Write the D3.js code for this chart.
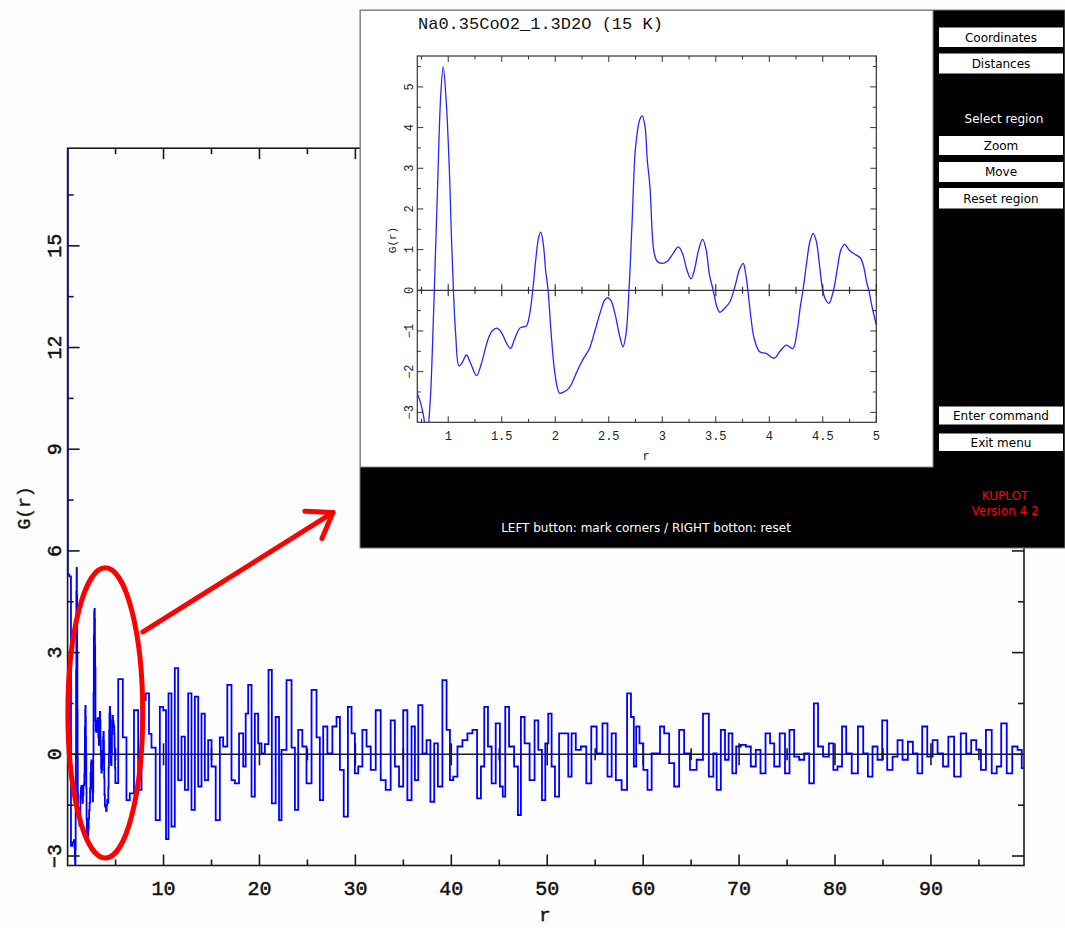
<!DOCTYPE html>
<html><head><meta charset="utf-8">
<script src="https://cdn.jsdelivr.net/npm/d3@7"></script>
<style>
html,body{margin:0;padding:0;background:#fdfdfd;}
svg{display:block;}
</style></head>
<body>
<svg id="chart" width="1065" height="928"></svg>
<script>
// ---------------- DATA ----------------
// main chart: tick labels
const mainXTickLabels = [10, 20, 30, 40, 50, 60, 70, 80, 90];
const mainYTickLabels = [-3, 0, 3, 6, 9, 12, 15];
// main curve: head (r < 0.7)
const mainHeadR = [0, 0.05, 0.3, 0.4, 0.6];
const mainHeadG = [20, 5.3, 5.25, -2.7, -2.6];
// zoomed region (r 0.71 .. 5)
const insetR = [0.71,0.74,0.77,0.80,0.83,0.85,0.87,0.90,0.93,0.953,0.98,1.01,1.03,1.05,1.07,1.10,1.13,1.17,1.21,1.265,1.31,1.37,1.41,1.457,1.50,1.545,1.582,1.62,1.669,1.70,1.73,1.76,1.79,1.82,1.845,1.865,1.89,1.91,1.933,1.96,1.99,2.02,2.04,2.08,2.13,2.17,2.22,2.27,2.32,2.37,2.42,2.46,2.49,2.52,2.56,2.60,2.633,2.66,2.689,2.72,2.75,2.79,2.813,2.84,2.86,2.885,2.92,2.95,2.995,3.05,3.10,3.15,3.19,3.23,3.268,3.30,3.34,3.377,3.41,3.44,3.476,3.51,3.538,3.58,3.632,3.68,3.72,3.756,3.78,3.80,3.83,3.86,3.91,3.97,4.045,4.10,4.16,4.22,4.26,4.29,4.315,4.35,4.38,4.41,4.44,4.47,4.50,4.53,4.558,4.60,4.64,4.67,4.704,4.75,4.81,4.85,4.88,4.91,4.93,4.96,5.0];
const insetG = [-2.53,-2.75,-3.1,-3.6,-2.8,-1.6,0.0,2.5,4.8,5.5,4.7,3.0,1.3,-0.1,-1.1,-1.86,-1.78,-1.59,-1.8,-2.1,-1.8,-1.22,-1.0,-0.93,-1.05,-1.3,-1.43,-1.2,-0.93,-0.9,-0.88,-0.6,0.0,0.8,1.3,1.43,1.1,0.5,0.0,-1.0,-1.9,-2.4,-2.53,-2.5,-2.4,-2.2,-1.9,-1.65,-1.43,-1.0,-0.55,-0.25,-0.18,-0.25,-0.6,-1.1,-1.39,-1.1,0.0,1.8,3.5,4.2,4.29,4.0,3.2,2.55,0.99,0.72,0.66,0.72,0.9,1.07,0.9,0.5,0.28,0.5,1.0,1.25,1.0,0.4,0.0,-0.4,-0.54,-0.45,-0.28,0.1,0.5,0.66,0.4,0.0,-0.7,-1.2,-1.51,-1.55,-1.67,-1.5,-1.35,-1.43,-1.0,-0.4,0.0,0.7,1.2,1.4,1.2,0.6,0.0,-0.25,-0.32,0.0,0.6,1.0,1.13,0.98,0.87,0.8,0.6,0.2,0.0,-0.4,-0.85];
// main curve tail (r > 5)
const mainR = [5.55,5.96,6.31,6.66,7.18,7.53,7.88,8.40,8.57,8.92,9.44,9.79,10.14,10.38,10.66,11.00,11.35,11.70,12.05,12.40,12.74,13.09,13.44,13.79,14.13,14.48,14.83,15.18,15.70,16.04,16.39,16.91,17.26,17.61,18.13,18.48,18.65,19.00,19.35,19.69,20.04,20.39,20.74,21.15,21.43,21.95,22.13,22.47,23.17,23.52,23.87,24.21,24.73,25.08,25.78,26.12,26.47,26.82,27.34,27.86,28.21,28.56,29.01,29.43,29.77,30.12,30.47,30.99,31.34,31.86,32.38,32.90,33.42,33.94,34.29,34.81,35.16,35.68,36.03,36.38,36.73,37.25,37.59,38.05,38.39,38.81,39.33,39.68,40.03,40.38,40.90,41.42,41.94,42.46,42.91,43.26,43.61,44.03,44.37,44.89,45.24,45.49,45.76,46.28,46.81,47.08,47.43,47.85,48.47,48.89,49.24,49.66,49.93,50.28,50.63,50.98,51.50,52.02,52.37,52.71,53.24,53.76,54.38,54.80,55.50,56.02,56.54,56.89,57.41,58.10,58.55,58.90,59.15,59.39,59.84,60.19,60.71,61.06,61.58,61.93,62.45,62.97,63.49,64.01,64.53,65.23,65.92,66.55,67.14,67.49,67.83,68.36,68.70,69.12,69.47,69.92,70.44,70.96,71.48,72.00,72.46,73.05,73.40,73.92,74.54,75.03,75.48,76.00,76.52,77.05,77.57,78.02,78.44,79.06,79.65,80.00,80.52,80.94,81.39,82.09,82.68,83.20,83.65,84.17,84.69,85.14,85.74,86.26,86.78,87.30,87.89,88.34,88.86,89.32,89.91,90.43,90.95,91.57,92.06,92.76,93.45,93.90,94.49,94.95,95.47,95.99,96.68,97.03,97.62,98.18,98.77,99.29,99.64];
const mainG = [2.22,0.5,-1.35,-1.15,1.3,-1.05,1.6,1.8,0.6,0.2,-1.94,1.4,1.3,-2.5,1.8,-2.13,2.54,-0.76,0.52,-1.05,1.8,-1.64,1.7,-0.95,1.2,-0.76,0.42,-0.36,-1.94,0.5,0.23,2.05,-0.76,-0.86,0.62,-0.36,1.2,2.05,-1.25,1.2,0.32,0.03,0.3,2.49,-1.45,1.1,-1.94,0.13,2.19,0.2,-1.64,0.72,0.23,-0.86,1.9,0.5,-1.35,0.82,0.03,0.82,1.1,-0.46,-1.84,1.4,0.62,-0.56,-0.36,0.72,0.23,-0.46,1.3,-0.76,-1.05,1.0,-0.36,-0.95,1.3,-1.35,0.82,-0.76,1.45,0.03,0.42,-1.4,0.32,-0.95,2.19,0.72,-0.76,-0.66,0.23,0.42,0.62,0.72,-1.3,-0.36,1.4,0.23,-0.86,0.91,-0.95,-1.25,1.4,0.23,-0.36,-1.79,1.1,0.32,-0.76,1.0,0.13,-1.35,0.32,1.2,-0.36,-1.25,0.62,0.62,-0.66,0.62,0.13,0.23,-0.86,0.82,0.03,0.91,-0.66,0.62,-0.76,-1.05,1.8,1.1,-0.36,0.82,0.32,-0.46,-1.05,0.03,0.03,0.82,0.62,-0.26,-0.95,0.72,0.03,-0.46,-0.16,1.2,-0.66,0.03,-1.05,0.72,-0.16,0.62,-0.56,0.23,0.28,0.23,-0.36,0.13,-0.56,0.62,0.32,-0.36,0.62,-0.56,0.72,-0.07,-0.16,0.03,-0.86,1.5,0.23,-0.07,0.32,-0.46,-0.36,0.82,0.03,-0.56,0.82,0.03,-0.66,0.23,-0.16,1.0,-0.46,-0.07,0.42,-0.16,0.37,0.03,-0.56,0.82,-0.07,0.42,0.03,-0.36,0.52,-0.66,0.62,0.03,0.42,0.13,-0.46,0.72,-0.56,-0.36,0.91,-0.56,0.23,0.13,-0.41];
// inset tick labels
const insetXTickLabels = ["1","1.5","2","2.5","3","3.5","4","4.5","5"];
const insetYTickLabels = ["\u22123","\u22122","\u22121","0","1","2","3","4","5"];
const insetTitle = "Na0.35CoO2_1.3D2O (15 K)";
const menuButtons = ["Coordinates","Distances","Zoom","Move","Reset region","Enter command","Exit menu"];
const menuLabels = ["Select region"];
const statusText = "LEFT button: mark corners / RIGHT botton: reset";
const versionText = ["KUPLOT","Version 4 2"];

// ---------------- DRAW ----------------
const svg = d3.select("#chart");
const MONO = "'Liberation Mono', 'DejaVu Sans Mono', monospace";
const SANS = "'DejaVu Sans', 'Liberation Sans', sans-serif";

// ===== main plot =====
const x = d3.scaleLinear().domain([0, 99.7]).range([67.6, 1024]);
const y = d3.scaleLinear().domain([-3.28, 17.88]).range([865.5, 148.2]);

svg.append("defs").append("clipPath").attr("id","mclip")
  .append("rect").attr("x",67.6).attr("y",148.2).attr("width",1024-67.6).attr("height",865.5-148.2);

const main = svg.append("g");
const axCol = "#1a1a1a";

// zero line
main.append("line").attr("x1",x(0)).attr("x2",x(99.7)).attr("y1",y(0)).attr("y2",y(0))
  .attr("stroke",axCol).attr("stroke-width",1.6);

// data
const mainData = [];
mainHeadR.forEach((r,i)=>mainData.push([r, mainHeadG[i]]));
insetR.forEach((r,i)=>mainData.push([r, insetG[i]]));
mainR.forEach((r,i)=>mainData.push([r, mainG[i]]));
main.append("path").datum(mainData)
  .attr("clip-path","url(#mclip)")
  .attr("d", d3.line().x(d=>x(d[0])).y(d=>y(d[1])).curve(d3.curveStep))
  .attr("fill","none").attr("stroke","#0000ff").attr("stroke-width",1.8);

// frame
main.append("rect").attr("x",x(0)).attr("y",y(17.88)).attr("width",x(99.7)-x(0)).attr("height",y(-3.28)-y(17.88))
  .attr("fill","none").attr("stroke",axCol).attr("stroke-width",1.6);

// x ticks
d3.range(5, 100, 5).forEach(v=>{
  const major = v % 10 === 0;
  const L = major ? 11 : 6;
  const xx = x(v);
  main.append("line").attr("x1",xx).attr("x2",xx).attr("y1",y(-3.28)).attr("y2",y(-3.28)-L).attr("stroke",axCol).attr("stroke-width",1.6);
  main.append("line").attr("x1",xx).attr("x2",xx).attr("y1",y(17.88)).attr("y2",y(17.88)+L).attr("stroke",axCol).attr("stroke-width",1.6);
  main.append("line").attr("x1",xx).attr("x2",xx).attr("y1",y(0)-L).attr("y2",y(0)+L).attr("stroke",axCol).attr("stroke-width",1.6);
});
// y ticks
d3.range(-3, 17.9, 1.5).forEach(v=>{
  const major = Math.abs(v % 3) < 1e-9;
  const L = major ? 12 : 6;
  const yy = y(v);
  main.append("line").attr("x1",x(0)).attr("x2",x(0)+L).attr("y1",yy).attr("y2",yy).attr("stroke",axCol).attr("stroke-width",1.6);
  main.append("line").attr("x1",x(99.7)).attr("x2",x(99.7)-L).attr("y1",yy).attr("y2",yy).attr("stroke",axCol).attr("stroke-width",1.6);
});
// x labels
mainXTickLabels.forEach(v=>{
  main.append("text").attr("x",x(v)).attr("y",894.5).attr("text-anchor","middle")
    .attr("font-family",MONO).attr("font-size",20).attr("fill","#111")
    .attr("stroke","#111").attr("stroke-width",0.5).text(v);
});
// y labels (rotated)
mainYTickLabels.forEach(v=>{
  const t = v < 0 ? "\u2212" + Math.abs(v) : String(v);
  main.append("text").attr("transform",`translate(61,${y(v)}) rotate(-90)`).attr("text-anchor","middle")
    .attr("font-family",MONO).attr("font-size",20).attr("fill","#111")
    .attr("stroke","#111").attr("stroke-width",0.5).text(t);
});
main.append("text").attr("transform","translate(30,508) rotate(-90)").attr("text-anchor","middle")
  .attr("font-family",MONO).attr("font-size",18).attr("fill","#111")
  .attr("stroke","#111").attr("stroke-width",0.4).text("G(r)");
main.append("text").attr("x",545).attr("y",921).attr("text-anchor","middle")
  .attr("font-family",MONO).attr("font-size",19).attr("fill","#111")
  .attr("stroke","#111").attr("stroke-width",0.5).text("r");

// ===== red annotation =====
const ann = svg.append("g").attr("stroke","#ff0000").attr("fill","none").attr("stroke-width",5).attr("stroke-linecap","round");
ann.append("ellipse").attr("cx",x(3.93)).attr("cy",y(1.22))
  .attr("rx",x(3.93+3.9)-x(3.93)).attr("ry",y(1.22)-y(1.22+4.28));
const ax0 = [x(7.85), y(3.61)], ax1 = [x(27.65), y(7.13)];
ann.append("line").attr("x1",ax0[0]).attr("y1",ax0[1]).attr("x2",ax1[0]).attr("y2",ax1[1]);
{
  const dx = ax1[0]-ax0[0], dy = ax1[1]-ax0[1], len = Math.hypot(dx,dy);
  const ux = -dx/len, uy = -dy/len, th = 35*Math.PI/180, A = 28;
  [th,-th].forEach(t=>{
    const rx = ux*Math.cos(t) - uy*Math.sin(t), ry = ux*Math.sin(t) + uy*Math.cos(t);
    ann.append("line").attr("x1",ax1[0]).attr("y1",ax1[1]).attr("x2",ax1[0]+A*rx).attr("y2",ax1[1]+A*ry);
  });
}

// ===== inset window =====
const win = svg.append("g");
win.append("rect").attr("x",360).attr("y",10).attr("width",705).attr("height",538)
  .attr("fill","#000").attr("stroke","#777").attr("stroke-width",1);
win.append("rect").attr("x",360.5).attr("y",10.5).attr("width",572.5).attr("height",456.5)
  .attr("fill","#fff").attr("stroke","#888").attr("stroke-width",1);

const ix = d3.scaleLinear().domain([0.711, 5]).range([417.3, 876.3]);
const iy = d3.scaleLinear().domain([-3.245, 5.76]).range([422.3, 56]);
const icol = "#333";

win.append("defs").append("clipPath").attr("id","iclip")
  .append("rect").attr("x",417.3).attr("y",56).attr("width",459).attr("height",366.3);

win.append("line").attr("x1",ix(0.711)).attr("x2",ix(5)).attr("y1",iy(0)).attr("y2",iy(0))
  .attr("stroke",icol).attr("stroke-width",1.3);

win.append("path").datum(insetR.map((r,i)=>[r, insetG[i]]))
  .attr("clip-path","url(#iclip)")
  .attr("d", d3.line().x(d=>ix(d[0])).y(d=>iy(d[1])).curve(d3.curveCatmullRom.alpha(0.5)))
  .attr("fill","none").attr("stroke","#2626ff").attr("stroke-width",1.3);

win.append("rect").attr("x",ix(0.711)).attr("y",iy(5.76)).attr("width",ix(5)-ix(0.711)).attr("height",iy(-3.245)-iy(5.76))
  .attr("fill","none").attr("stroke",icol).attr("stroke-width",1.2);

d3.range(0.75, 5.01, 0.25).forEach(v=>{
  const major = Math.abs((v*2) - Math.round(v*2)) < 1e-9;
  const L = major ? 6 : 3.5;
  const xx = ix(v);
  win.append("line").attr("x1",xx).attr("x2",xx).attr("y1",iy(-3.245)).attr("y2",iy(-3.245)-L).attr("stroke",icol);
  win.append("line").attr("x1",xx).attr("x2",xx).attr("y1",iy(5.76)).attr("y2",iy(5.76)+L).attr("stroke",icol);
  win.append("line").attr("x1",xx).attr("x2",xx).attr("y1",iy(0)-L).attr("y2",iy(0)+L).attr("stroke",icol).attr("stroke-width",1.2);
});
d3.range(-3, 5.6, 0.5).forEach(v=>{
  const major = Math.abs(v - Math.round(v)) < 1e-9;
  const L = major ? 6 : 3.5;
  const yy = iy(v);
  win.append("line").attr("x1",ix(0.711)).attr("x2",ix(0.711)+L).attr("y1",yy).attr("y2",yy).attr("stroke",icol);
  win.append("line").attr("x1",ix(5)).attr("x2",ix(5)-L).attr("y1",yy).attr("y2",yy).attr("stroke",icol);
});
insetXTickLabels.forEach(t=>{
  win.append("text").attr("x",ix(+t)).attr("y",439.5).attr("text-anchor","middle")
    .attr("font-family",MONO).attr("font-size",12).attr("fill","#222").text(t);
});
insetYTickLabels.forEach(t=>{
  const v = +t.replace("\u2212","-");
  win.append("text").attr("transform",`translate(412.5,${iy(v)}) rotate(-90)`).attr("text-anchor","middle")
    .attr("font-family",MONO).attr("font-size",12).attr("fill","#222").text(t);
});
win.append("text").attr("transform","translate(396,240) rotate(-90)").attr("text-anchor","middle")
  .attr("font-family",MONO).attr("font-size",11).attr("fill","#222").text("G(r)");
win.append("text").attr("x",646).attr("y",460).attr("text-anchor","middle")
  .attr("font-family",MONO).attr("font-size",12).attr("fill","#222").text("r");
win.append("text").attr("x",418).attr("y",28.5)
  .attr("font-family",MONO).attr("font-size",17).attr("fill","#111").text(insetTitle);

// menu buttons
const btnY = [27.5, 53.5, 136, 162, 188, 406.5, 433.5];
const btnH = [19.5, 20, 19, 20, 20.5, 18, 17.5];
menuButtons.forEach((b,i)=>{
  win.append("rect").attr("x",939).attr("y",btnY[i]).attr("width",124).attr("height",btnH[i]).attr("fill","#fff");
  win.append("text").attr("x",1001).attr("y",btnY[i]+btnH[i]/2+4.3).attr("text-anchor","middle")
    .attr("font-family",SANS).attr("font-size",12).attr("fill","#000").text(b);
});
menuLabels.forEach(t=>{
  win.append("text").attr("x",1004).attr("y",122.5).attr("text-anchor","middle")
    .attr("font-family",SANS).attr("font-size",12).attr("fill","#fff").text(t);
});
win.append("text").attr("x",646).attr("y",532).attr("text-anchor","middle")
  .attr("font-family",SANS).attr("font-size",12).attr("fill","#fff").text(statusText);
versionText.forEach((t,i)=>{
  win.append("text").attr("x",1005).attr("y",499.5 + i*15).attr("text-anchor","middle")
    .attr("font-family",SANS).attr("font-size",12).attr("fill","#ff0000").text(t);
});
</script>
</body></html>
